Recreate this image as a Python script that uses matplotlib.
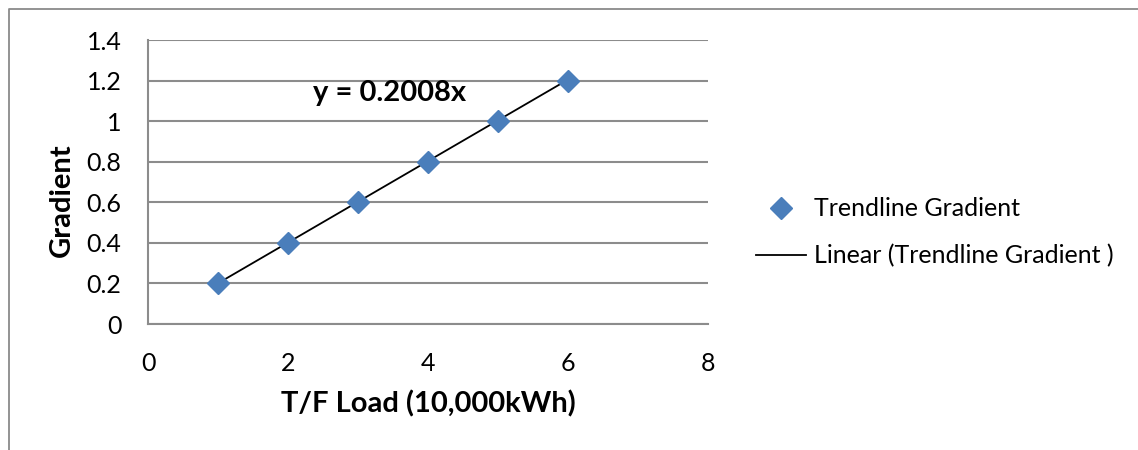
import matplotlib
matplotlib.use("Agg")
import matplotlib.pyplot as plt
from matplotlib.lines import Line2D
import numpy as np

# ---- data ----
load = [1, 2, 3, 4, 5, 6]
gradient = [0.2, 0.4, 0.6, 0.8, 1.0, 1.2]
trend_slope = 0.2008
x_ticks = [0, 2, 4, 6, 8]
y_ticks = [0, 0.2, 0.4, 0.6, 0.8, 1, 1.2, 1.4]
y_tick_labels = ["0", "0.2", "0.4", "0.6", "0.8", "1", "1.2", "1.4"]
x_label = "T/F Load (10,000kWh)"
y_label = "Gradient"
series_name = "Trendline Gradient"
trend_name = "Linear (Trendline Gradient )"

plt.rcParams['font.family'] = ['Lato', 'DejaVu Sans']

W, H = 1138, 450
fig = plt.figure(figsize=(W / 100, H / 100), dpi=100)
fig.patch.set_facecolor("white")

ax = fig.add_axes([148 / W, 1 - 324 / H, 560 / W, 284 / H])
grid_col = "#8c8c8c"
blue = "#4a7ebb"

ax.set_xlim(0, 8)
ax.set_ylim(0, 1.4)
ax.set_xticks(x_ticks)
ax.set_xticklabels([str(v) for v in x_ticks])
ax.set_yticks(y_ticks)
ax.set_yticklabels(y_tick_labels)
ax.tick_params(axis='both', length=0, labelsize=18, colors="black")
ax.tick_params(axis='x', pad=20)
ax.tick_params(axis='y', pad=19)
ax.yaxis.grid(True, color=grid_col, linewidth=1.5)
ax.set_axisbelow(True)
for s in ["top", "right"]:
    ax.spines[s].set_visible(False)
for s in ["left", "bottom"]:
    ax.spines[s].set_color(grid_col)
    ax.spines[s].set_linewidth(1.5)

# trendline (through origin)
tx = np.array([min(load), max(load)])
ax.plot(tx, trend_slope * tx, color="black", linewidth=1.3, zorder=3)
ax.plot(load, gradient, linestyle="none", marker="D", markersize=11,
        color=blue, markeredgecolor=blue, zorder=4, clip_on=False)

ax.text(0.432, 0.813, f"y = {trend_slope}x", transform=ax.transAxes,
        ha="center", va="center", fontsize=21, fontweight="bold")

ax.set_xlabel(x_label, fontsize=21, fontweight="bold")
ax.xaxis.set_label_coords(0.5, (324 - 390) / 284)
ax.set_ylabel(y_label, fontsize=21, fontweight="bold")
ax.yaxis.set_label_coords((75 - 148) / 560, (324 - 200) / 284)

handles = [
    Line2D([], [], linestyle="none", marker="D", markersize=11, color=blue),
    Line2D([], [], color="black", linewidth=1.3),
]
fig.legend(handles, [series_name, trend_name], loc="center left",
           bbox_to_anchor=(756 / W, 1 - 232.5 / H), frameon=False,
           fontsize=18, borderpad=0, borderaxespad=0,
           handlelength=2.0, handletextpad=0.32, labelspacing=0.95)

# chart-area border (left and top edges visible)
fig.add_artist(Line2D([8.5 / W, 8.5 / W, 1.0], [0.0, 1 - 9 / H, 1 - 9 / H],
                      transform=fig.transFigure, color="#8a8a8a",
                      linewidth=1.3))

fig.savefig("out.png", dpi=100)
